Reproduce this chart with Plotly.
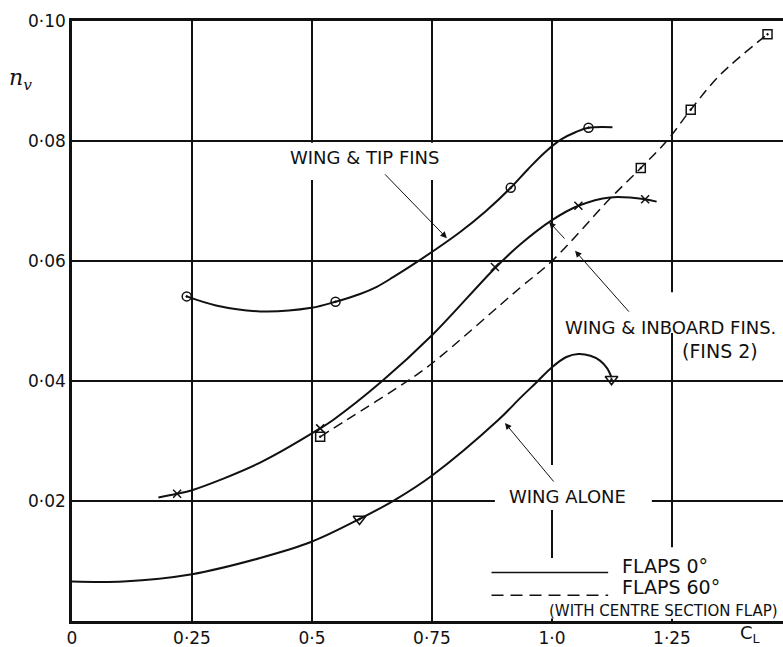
import plotly.graph_objects as go

# wing & tip fins (flaps 0, circles)
tip_cl = [0.239, 0.549, 0.914, 1.076]
tip_nv = [0.0541, 0.0532, 0.0722, 0.0822]
tip_curve_cl = [0.239, 0.300, 0.392, 0.499, 0.549, 0.600, 0.635, 0.669, 0.718, 0.808, 0.862, 0.914, 0.950, 0.985, 1.020, 1.050, 1.076, 1.126]
tip_curve_nv = [0.0541, 0.0526, 0.0516, 0.0522, 0.0532, 0.0545, 0.0557, 0.0573, 0.0598, 0.0648, 0.0683, 0.0722, 0.0753, 0.0781, 0.0803, 0.0815, 0.0822, 0.0823]

# wing & inboard fins, flaps 0 (crosses)
inb_cl = [0.219, 0.517, 0.881, 1.055, 1.194]
inb_nv = [0.0212, 0.0321, 0.0590, 0.0692, 0.0703]
inb_curve_cl = [0.180, 0.219, 0.250, 0.392, 0.517, 0.544, 0.645, 0.751, 0.881, 0.933, 1.000, 1.055, 1.121, 1.194, 1.218]
inb_curve_nv = [0.0206, 0.0212, 0.0218, 0.0264, 0.0321, 0.0335, 0.0399, 0.0477, 0.0588, 0.0627, 0.0668, 0.0692, 0.0706, 0.0703, 0.0699]

# wing & inboard fins, flaps 60 (squares, dashed)
f60_cl = [0.517, 1.185, 1.289, 1.449]
f60_nv = [0.0307, 0.0755, 0.0852, 0.0978]
f60_curve_cl = [0.517, 0.572, 0.697, 0.751, 0.933, 1.000, 1.121, 1.185, 1.239, 1.289, 1.350, 1.449]
f60_curve_nv = [0.0307, 0.0335, 0.0399, 0.0430, 0.0555, 0.0600, 0.0704, 0.0755, 0.0800, 0.0852, 0.0910, 0.0978]

# wing alone (triangles)
alone_cl = [-0.023, 0.599, 1.124]
alone_nv = [0.0066, 0.0170, 0.0403]
alone_curve_cl = [0.0, 0.107, 0.250, 0.392, 0.499, 0.599, 0.673, 0.751, 0.888, 0.933, 0.968, 1.000, 1.030, 1.055, 1.080, 1.100, 1.115, 1.124]
alone_curve_nv = [0.0066, 0.0066, 0.0078, 0.0105, 0.0132, 0.0170, 0.0202, 0.0243, 0.0335, 0.0371, 0.0398, 0.0423, 0.0440, 0.0445, 0.0442, 0.0434, 0.0421, 0.0406]

x_ticks = [0, 0.25, 0.5, 0.75, 1.0, 1.25]
x_tick_text = ["0", "0·25", "0·5", "0·75", "1·0", "1·25"]
y_ticks = [0.02, 0.04, 0.06, 0.08, 0.10]
y_tick_text = ["0·02", "0·04", "0·06", "0·08", "0·10"]

FONT = "DejaVu Sans"
INK = "#111111"


def curve(x, y, dash="solid", width=2):
    return go.Scatter(
        x=x, y=y, mode="lines", line={"color": INK, "width": width, "dash": dash,
                                       "shape": "spline", "smoothing": 1.0},
        showlegend=False, hoverinfo="skip",
    )


def points(x, y, symbol, size):
    return go.Scatter(
        x=x, y=y, mode="markers", cliponaxis=False, showlegend=False,
        marker={"symbol": symbol, "size": size, "color": INK,
                "line": {"color": INK, "width": 1.5}},
    )


fig = go.Figure()
fig.add_trace(curve(tip_curve_cl, tip_curve_nv))
fig.add_trace(curve(inb_curve_cl, inb_curve_nv))
fig.add_trace(curve(f60_curve_cl, f60_curve_nv, dash="10px,6px", width=1.5))
fig.add_trace(curve(alone_curve_cl, alone_curve_nv))
fig.add_trace(points(tip_cl, tip_nv, "circle-open-dot", 9))
fig.add_trace(points(inb_cl, inb_nv, "x-thin-open", 8))
fig.add_trace(points(f60_cl, f60_nv, "square-open-dot", 9))
fig.add_trace(points(alone_cl, alone_nv, "triangle-down-open-dot", 11))

# white patches where the lettering breaks the grid
blanks = [
    (0.444, 0.819, 0.0735, 0.0797),
    (1.20, 1.30, 0.0480, 0.0548),
    (0.881, 1.208, 0.0185, 0.0260),
    (0.871, 1.49, 0.0004, 0.0105),
    (1.10, 1.49, 0.0004, 0.0123),
]
shapes = [
    dict(type="rect", xref="x", yref="y", x0=a, x1=b, y0=c, y1=d,
         fillcolor="white", line={"width": 0}, layer="between")
    for a, b, c, d in blanks
]
# key lines
shapes.append(dict(type="line", xref="x", yref="y", x0=0.874, x1=1.117, y0=0.0081, y1=0.0081,
                   line={"color": INK, "width": 1.5}))
shapes.append(dict(type="line", xref="x", yref="y", x0=0.874, x1=1.117, y0=0.0043, y1=0.0043,
                   line={"color": INK, "width": 1.5, "dash": "12px,7px"}))


def label(text, x, y, size=18, anchor="left"):
    return dict(text=text, x=x, y=y, xref="x", yref="y", showarrow=False,
                xanchor=anchor, yanchor="middle", font={"family": FONT, "size": size, "color": INK})


def arrow(x, y, ax, ay):
    return dict(text="", x=x, y=y, ax=ax, ay=ay, xref="x", yref="y", axref="x", ayref="y",
                showarrow=True, arrowhead=2, arrowsize=1.3, arrowwidth=1, arrowcolor=INK)


annotations = [
    label("WING & TIP FINS", 0.45, 0.0772, 18),
    label("WING & INBOARD FINS.", 1.023, 0.0490, 18),
    label("(FINS 2)", 1.35, 0.0450, 19, anchor="center"),
    label("WING ALONE", 0.906, 0.0207, 18),
    label("FLAPS 0°", 1.142, 0.0092, 19),
    label("FLAPS 60°", 1.142, 0.0057, 19),
    label("(WITH CENTRE SECTION FLAP)", 0.990, 0.0017, 15),
    arrow(0.781, 0.0638, 0.649, 0.0747),
    arrow(1.048, 0.0617, 1.163, 0.0513),
    arrow(0.994, 0.0665, 1.029, 0.0635),
    arrow(0.902, 0.0330, 1.006, 0.0230),
    dict(text="<i>n</i><sub><i>v</i></sub>", x=-0.072, y=0.902, xref="paper", yref="paper",
         xanchor="center", yanchor="middle", showarrow=False,
         font={"family": "DejaVu Serif", "size": 22, "color": INK}),
    dict(text="C<sub>L</sub>", x=0.954, y=-0.021, xref="paper", yref="paper",
         xanchor="center", yanchor="middle", showarrow=False,
         font={"family": FONT, "size": 18, "color": INK}),
]

fig.update_layout(
    width=783, height=647,
    margin={"l": 72, "r": 0, "t": 21, "b": 26},
    paper_bgcolor="white", plot_bgcolor="white",
    shapes=shapes, annotations=annotations,
    xaxis={"range": [0, 1.48125], "tickvals": x_ticks, "ticktext": x_tick_text,
           "showgrid": True, "gridcolor": INK, "gridwidth": 1.5, "zeroline": False,
           "showline": True, "linecolor": INK, "linewidth": 2.5, "mirror": True,
           "automargin": False,
           "ticks": "", "tickfont": {"family": FONT, "size": 17, "color": INK}},
    yaxis={"range": [0, 0.10], "tickvals": y_ticks, "ticktext": y_tick_text,
           "showgrid": True, "gridcolor": INK, "gridwidth": 1.5, "zeroline": False,
           "showline": True, "linecolor": INK, "linewidth": 2.5, "automargin": False,
           "ticks": "", "tickfont": {"family": FONT, "size": 17, "color": INK}},
)

fig.write_html("out.html", config={"displayModeBar": False},
               post_script="document.body.style.margin = '0';")
